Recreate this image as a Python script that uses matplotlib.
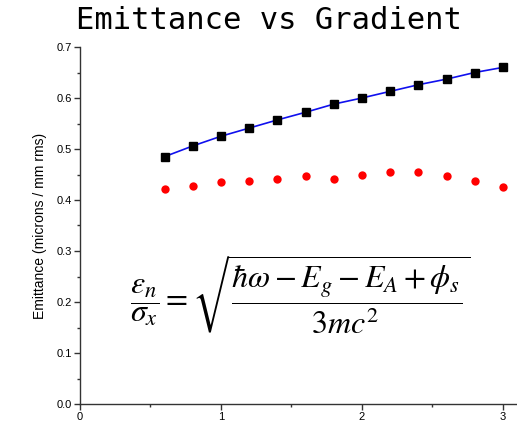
import matplotlib
matplotlib.use("Agg")
import matplotlib.pyplot as plt
from matplotlib.ticker import MultipleLocator, FormatStrFormatter

# Gradient values and measured emittance
gradient = [0.6, 0.8, 1.0, 1.2, 1.4, 1.6, 1.8, 2.0, 2.2, 2.4, 2.6, 2.8, 3.0]
emittance_meas = [0.485, 0.506, 0.525, 0.541, 0.557, 0.572, 0.588, 0.600,
                  0.613, 0.626, 0.637, 0.650, 0.660]
emittance_theory = [0.422, 0.428, 0.435, 0.437, 0.441, 0.448, 0.441, 0.450,
                    0.454, 0.454, 0.447, 0.437, 0.425]

plt.rcParams['font.family'] = ['Liberation Sans', 'DejaVu Sans']
plt.rcParams['mathtext.fontset'] = 'stix'

fig = plt.figure(figsize=(5.17, 4.30), dpi=100)
ax = fig.add_axes([80 / 517, 26 / 430, 437 / 517, 357 / 430])

ax.plot(gradient, emittance_meas, color='#1010ee', lw=1.2, zorder=2)
ax.plot(gradient, emittance_meas, 's', color='black', ms=5.2, zorder=3)
ax.plot(gradient, emittance_theory, 'o', color='#ff0000', ms=6.0,
        markeredgewidth=0, zorder=3)

ax.set_xlim(0, 3.1)
ax.set_ylim(0, 0.7)
ax.xaxis.set_major_locator(MultipleLocator(1))
ax.xaxis.set_minor_locator(MultipleLocator(0.5))
ax.yaxis.set_major_locator(MultipleLocator(0.1))
ax.yaxis.set_minor_locator(MultipleLocator(0.05))
ax.yaxis.set_major_formatter(FormatStrFormatter('%.1f'))

for s in ('top', 'right'):
    ax.spines[s].set_visible(False)
for s in ('left', 'bottom'):
    ax.spines[s].set_color('#333333')
    ax.spines[s].set_linewidth(1.0)

ax.tick_params(which='major', direction='out', length=4, width=1,
               color='#333333', labelsize=8, pad=2)
ax.tick_params(which='minor', direction='out', length=2.5, width=1,
               color='#333333')

ax.set_ylabel('Emittance (microns / mm rms)', fontsize=10, labelpad=7)

fig.text(0.52, 0.952, 'Emittance vs Gradient', family='DejaVu Sans Mono',
         fontsize=22, ha='center', va='center')

ax.text(1.56, 0.215,
        r'$\dfrac{\varepsilon_n}{\sigma_x} = '
        r'\sqrt{\dfrac{\hbar\omega - E_g - E_A + \phi_s}{3mc^2}}$',
        fontsize=23, ha='center', va='center')

fig.savefig('out.png', dpi=100)
